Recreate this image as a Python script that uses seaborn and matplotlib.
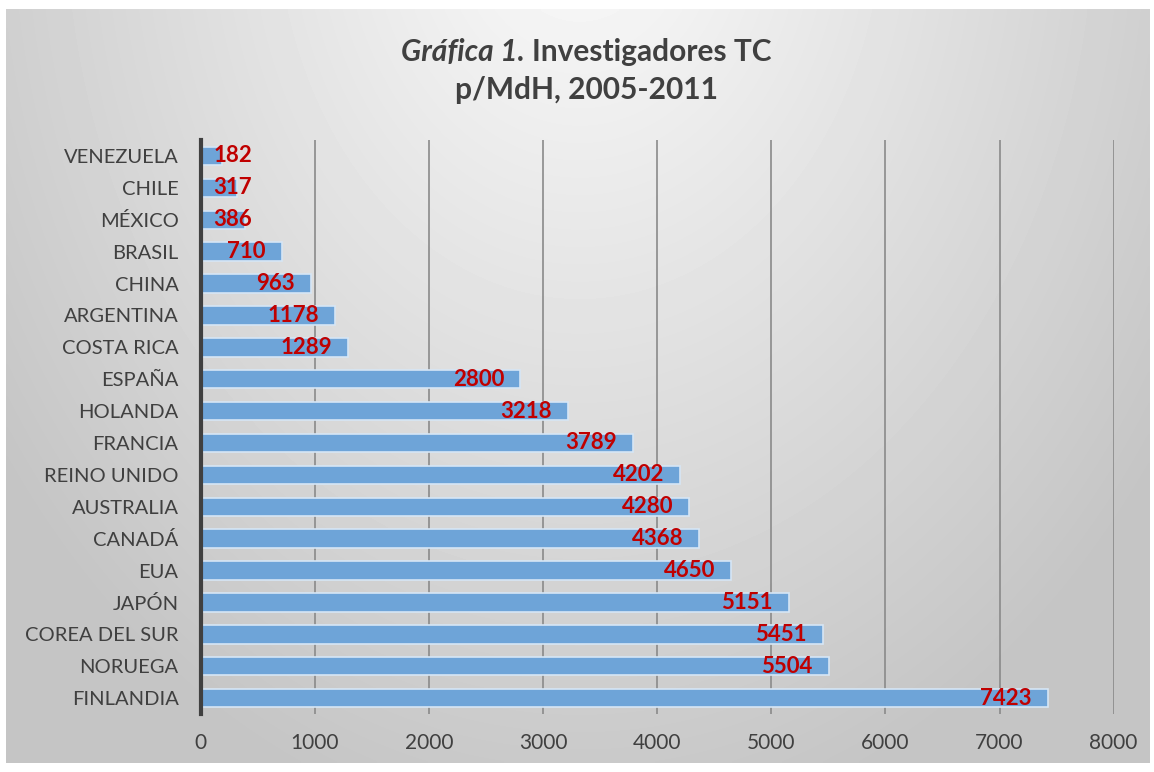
import numpy as np
import pandas as pd
import matplotlib
matplotlib.use("Agg")
import matplotlib.pyplot as plt
import seaborn as sns

# data
countries = ["VENEZUELA", "CHILE", "MÉXICO", "BRASIL", "CHINA", "ARGENTINA",
             "COSTA RICA", "ESPAÑA", "HOLANDA", "FRANCIA", "REINO UNIDO",
             "AUSTRALIA", "CANADÁ", "EUA", "JAPÓN", "COREA DEL SUR",
             "NORUEGA", "FINLANDIA"]
values = [182, 317, 386, 710, 963, 1178, 1289, 2800, 3218, 3789, 4202,
          4280, 4368, 4650, 5151, 5451, 5504, 7423]
x_ticks = [0, 1000, 2000, 3000, 4000, 5000, 6000, 7000, 8000]

df = pd.DataFrame({"pais": countries, "valor": values})

sns.set_style("white")
plt.rcParams["font.family"] = ["Lato", "DejaVu Sans"]

fig = plt.figure(figsize=(11.54, 7.72), dpi=100, facecolor="white")

# gradient background panel
bg = fig.add_axes([0.005, 0.012, 0.991, 0.976])
h, w = 200, 300
yy, xx = np.mgrid[0:h, 0:w]
dist = np.sqrt(((xx - w / 2) / (w / 2)) ** 2 + ((yy + 0.15 * h) / h) ** 2)
shade = np.clip(0.985 - 0.17 * dist, 0.77, 0.985)
bg.imshow(shade, cmap="gray", vmin=0, vmax=1, aspect="auto",
          extent=[0, 1, 0, 1], interpolation="bilinear")
bg.set_axis_off()
bg.set_zorder(0)

ax = fig.add_axes([0.174, 0.0751, 0.791, 0.7435])
ax.set_zorder(1)
ax.patch.set_alpha(0)

sns.barplot(data=df, x="valor", y="pais", order=countries, orient="h",
            color="#6EA4D8", width=0.58, edgecolor="#D6E6F5", linewidth=1.2,
            saturation=1, ax=ax, zorder=3)

ax.set_xlim(0, 8000)
ax.set_ylim(17.5, -0.5)
ax.set_xticks(x_ticks)
ax.set_xticklabels([str(t) for t in x_ticks])
ax.xaxis.grid(True, color="#8A8A8A", linewidth=1.2, zorder=0)
ax.set_axisbelow(True)
ax.set_xlabel("")
ax.set_ylabel("")
for s in ["top", "right", "bottom"]:
    ax.spines[s].set_visible(False)
ax.spines["left"].set_color("#404040")
ax.spines["left"].set_linewidth(3)
ax.spines["left"].set_zorder(5)
ax.tick_params(axis="y", length=0, pad=16, labelsize=14.5, labelcolor="#404040")
ax.tick_params(axis="x", length=0, pad=14, labelsize=15, labelcolor="#404040")

for i, v in enumerate(values):
    ax.text(max(v - 140, 450), i, str(v), ha="right", va="center",
            color="#C00000", fontsize=16, fontweight="bold", zorder=6)

t1a = fig.text(0.497, 0.933, "Gráfica 1.", ha="right", va="center",
               fontsize=21.5, fontstyle="italic", fontweight="bold", color="#404040")
t1b = fig.text(0.503, 0.933, "Investigadores TC", ha="left", va="center",
               fontsize=21.5, fontweight="bold", color="#404040")
fig.text(0.508, 0.883, "p/MdH, 2005-2011", ha="center", va="center",
         fontsize=21.5, fontweight="bold", color="#404040")

fig.canvas.draw()
# center the first title line as a whole
r = fig.canvas.get_renderer()
wa = t1a.get_window_extent(r).width / fig.bbox.width
wb = t1b.get_window_extent(r).width / fig.bbox.width
gap = 0.006
left = 0.508 - (wa + gap + wb) / 2
t1a.set_x(left + wa)
t1b.set_x(left + wa + gap)

fig.savefig("out.png", dpi=100, facecolor="white")
